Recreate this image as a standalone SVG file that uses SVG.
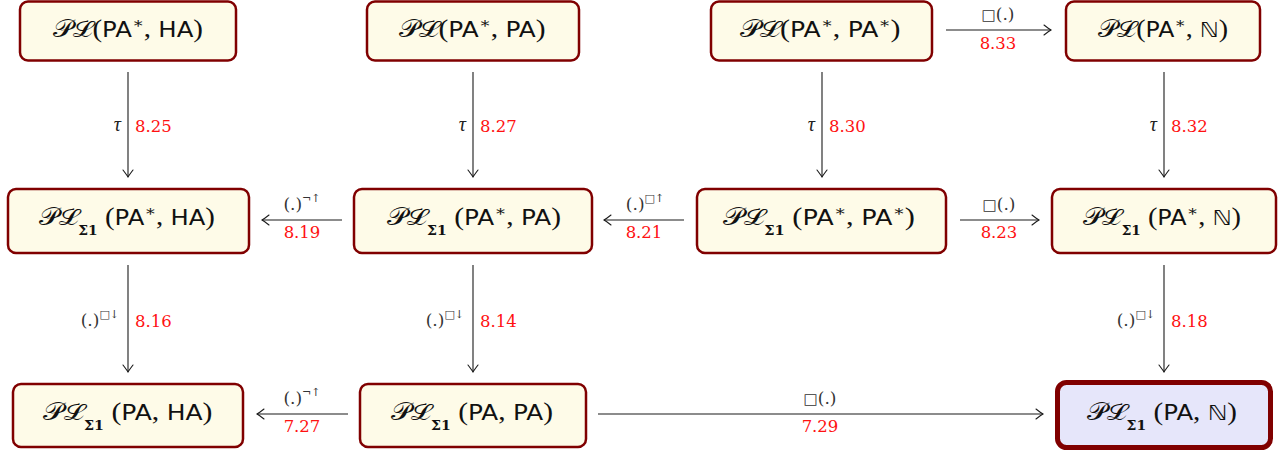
<svg xmlns="http://www.w3.org/2000/svg" width="1282" height="454" viewBox="0 0 1282 454">
<defs>
<marker id="arr" viewBox="-9 -6 10 12" markerWidth="10" markerHeight="12" refX="0" refY="0" orient="auto" markerUnits="userSpaceOnUse">
<path d="M-7,-5 Q-2,-1.2 0,0 Q-2,1.2 -7,5" fill="none" stroke="#1a1a1a" stroke-width="1.1" stroke-linecap="round"/>
</marker>
</defs>
<style>
.box{fill:#fefbe8;stroke:#800000;stroke-width:2.5}
.goal{fill:#e6e6fa;stroke:#800000;stroke-width:5}
.nt{font-family:"Liberation Serif","DejaVu Serif",serif;font-size:25px;fill:#111;text-anchor:middle}
.cal{font-size:24px}
.sf{font-family:"DejaVu Sans","Liberation Sans",sans-serif;font-size:21px}
.st{font-size:15px}
.sub{font-family:"DejaVu Serif",serif;font-size:12px;font-weight:bold}
.edge{stroke:#1a1a1a;stroke-width:1.1;fill:none;marker-end:url(#arr)}
.lb{font-family:"DejaVu Serif","Liberation Serif",serif;font-size:17px;fill:#333}
.tau{font-family:"Liberation Serif",serif;font-size:20px;font-style:italic;fill:#222}
.rd{font-family:"DejaVu Serif","Liberation Serif",serif;font-size:16.5px;fill:#ff1111}
.mid{text-anchor:middle}
.end{text-anchor:end}
.sup{font-size:11px}
.sq{font-family:"DejaVu Sans",sans-serif;font-size:15px}
</style>

<g id="edges">
<line class="edge" x1="128" y1="72" x2="128" y2="177"/>
<line class="edge" x1="473" y1="72" x2="473" y2="177"/>
<line class="edge" x1="822" y1="72" x2="822" y2="177"/>
<line class="edge" x1="1164" y1="72" x2="1164" y2="177"/>
<line class="edge" x1="128" y1="265" x2="128" y2="372"/>
<line class="edge" x1="473" y1="265" x2="473" y2="372"/>
<line class="edge" x1="1164" y1="265" x2="1164" y2="372"/>
<line class="edge" x1="946" y1="30" x2="1051" y2="30"/>
<line class="edge" x1="342" y1="220" x2="262" y2="220"/>
<line class="edge" x1="684" y1="220" x2="604" y2="220"/>
<line class="edge" x1="960" y1="220" x2="1039" y2="220"/>
<line class="edge" x1="348" y1="414" x2="257" y2="414"/>
<line class="edge" x1="598" y1="414" x2="1043" y2="414"/>

<text class="tau end" x="121" y="131">τ</text>
<text class="rd" x="135" y="132">8.25</text>
<text class="tau end" x="466" y="131">τ</text>
<text class="rd" x="480" y="132">8.27</text>
<text class="tau end" x="815" y="131">τ</text>
<text class="rd" x="829" y="132">8.30</text>
<text class="tau end" x="1157" y="131">τ</text>
<text class="rd" x="1171" y="132">8.32</text>

<text class="lb end" x="119" y="326">(.)<tspan class="sup" dy="-8">□↓</tspan></text>
<text class="rd" x="135" y="327">8.16</text>
<text class="lb end" x="464" y="326">(.)<tspan class="sup" dy="-8">□↓</tspan></text>
<text class="rd" x="480" y="327">8.14</text>
<text class="lb end" x="1155" y="326">(.)<tspan class="sup" dy="-8">□↓</tspan></text>
<text class="rd" x="1171" y="327">8.18</text>

<text class="lb mid" x="998" y="20"><tspan class="sq">□</tspan>(.)</text>
<text class="rd mid" x="998" y="49">8.33</text>
<text class="lb mid" x="302" y="210">(.)<tspan class="sup" dy="-8">¬↑</tspan></text>
<text class="rd mid" x="302" y="238">8.19</text>
<text class="lb mid" x="645" y="210">(.)<tspan class="sup" dy="-8">□↑</tspan></text>
<text class="rd mid" x="644" y="238">8.21</text>
<text class="lb mid" x="999" y="210"><tspan class="sq">□</tspan>(.)</text>
<text class="rd mid" x="999" y="238">8.23</text>
<text class="lb mid" x="302" y="404">(.)<tspan class="sup" dy="-8">¬↑</tspan></text>
<text class="rd mid" x="302" y="432">7.27</text>
<text class="lb mid" x="820" y="404"><tspan class="sq">□</tspan>(.)</text>
<text class="rd mid" x="820" y="432">7.29</text>
</g>

<g id="n-pl-pastar-ha">
<rect class="box" x="20" y="1.5" width="216" height="59" rx="8"/>
<text class="nt" x="128" y="37" textLength="150" lengthAdjust="spacingAndGlyphs"><tspan class="cal">𝒫ℒ</tspan>(<tspan class="sf">PA</tspan><tspan class="st" dy="-9">∗</tspan><tspan dy="9">, </tspan><tspan class="sf">HA</tspan>)</text>
</g>
<g id="n-pl-pastar-pa">
<rect class="box" x="367" y="1.5" width="212" height="59" rx="8"/>
<text class="nt" x="472" y="37" textLength="147" lengthAdjust="spacingAndGlyphs"><tspan class="cal">𝒫ℒ</tspan>(<tspan class="sf">PA</tspan><tspan class="st" dy="-9">∗</tspan><tspan dy="9">, </tspan><tspan class="sf">PA</tspan>)</text>
</g>
<g id="n-pl-pastar-pastar">
<rect class="box" x="711" y="1.5" width="221" height="59" rx="8"/>
<text class="nt" x="820" y="37" textLength="161" lengthAdjust="spacingAndGlyphs"><tspan class="cal">𝒫ℒ</tspan>(<tspan class="sf">PA</tspan><tspan class="st" dy="-9">∗</tspan><tspan dy="9">, </tspan><tspan class="sf">PA</tspan><tspan class="st" dy="-9">∗</tspan><tspan dy="9">)</tspan></text>
</g>
<g id="n-pl-pastar-n">
<rect class="box" x="1066" y="1.5" width="194" height="59" rx="8"/>
<text class="nt" x="1163" y="37" textLength="130" lengthAdjust="spacingAndGlyphs"><tspan class="cal">𝒫ℒ</tspan>(<tspan class="sf">PA</tspan><tspan class="st" dy="-9">∗</tspan><tspan dy="9">, </tspan><tspan class="sf">ℕ</tspan>)</text>
</g>

<g id="n-ps-pastar-ha">
<rect class="box" x="8" y="189" width="241" height="64" rx="8"/>
<text class="nt" x="127" y="225" textLength="176" lengthAdjust="spacingAndGlyphs"><tspan class="cal">𝒫ℒ</tspan><tspan class="sub" dy="10">Σ1</tspan><tspan dy="-10"> (</tspan><tspan class="sf">PA</tspan><tspan class="st" dy="-9">∗</tspan><tspan dy="9">, </tspan><tspan class="sf">HA</tspan>)</text>
</g>
<g id="n-ps-pastar-pa">
<rect class="box" x="354" y="189" width="238" height="64" rx="8"/>
<text class="nt" x="474" y="225" textLength="174" lengthAdjust="spacingAndGlyphs"><tspan class="cal">𝒫ℒ</tspan><tspan class="sub" dy="10">Σ1</tspan><tspan dy="-10"> (</tspan><tspan class="sf">PA</tspan><tspan class="st" dy="-9">∗</tspan><tspan dy="9">, </tspan><tspan class="sf">PA</tspan>)</text>
</g>
<g id="n-ps-pastar-pastar">
<rect class="box" x="697" y="189" width="249" height="64" rx="8"/>
<text class="nt" x="819" y="225" textLength="192" lengthAdjust="spacingAndGlyphs"><tspan class="cal">𝒫ℒ</tspan><tspan class="sub" dy="10">Σ1</tspan><tspan dy="-10"> (</tspan><tspan class="sf">PA</tspan><tspan class="st" dy="-9">∗</tspan><tspan dy="9">, </tspan><tspan class="sf">PA</tspan><tspan class="st" dy="-9">∗</tspan><tspan dy="9">)</tspan></text>
</g>
<g id="n-ps-pastar-n">
<rect class="box" x="1052" y="189" width="224" height="64" rx="8"/>
<text class="nt" x="1162" y="225" textLength="158" lengthAdjust="spacingAndGlyphs"><tspan class="cal">𝒫ℒ</tspan><tspan class="sub" dy="10">Σ1</tspan><tspan dy="-10"> (</tspan><tspan class="sf">PA</tspan><tspan class="st" dy="-9">∗</tspan><tspan dy="9">, </tspan><tspan class="sf">ℕ</tspan>)</text>
</g>

<g id="n-ps-pa-ha">
<rect class="box" x="13" y="384" width="230" height="63" rx="8"/>
<text class="nt" x="128" y="420" textLength="169" lengthAdjust="spacingAndGlyphs"><tspan class="cal">𝒫ℒ</tspan><tspan class="sub" dy="10">Σ1</tspan><tspan dy="-10"> (</tspan><tspan class="sf">PA</tspan>, <tspan class="sf">HA</tspan>)</text>
</g>
<g id="n-ps-pa-pa">
<rect class="box" x="360" y="384" width="226" height="63" rx="8"/>
<text class="nt" x="472" y="420" textLength="162" lengthAdjust="spacingAndGlyphs"><tspan class="cal">𝒫ℒ</tspan><tspan class="sub" dy="10">Σ1</tspan><tspan dy="-10"> (</tspan><tspan class="sf">PA</tspan>, <tspan class="sf">PA</tspan>)</text>
</g>
<g id="n-ps-pa-n">
<rect class="goal" x="1057.5" y="382.5" width="213" height="65" rx="9"/>
<text class="nt" x="1162" y="420" textLength="150" lengthAdjust="spacingAndGlyphs"><tspan class="cal">𝒫ℒ</tspan><tspan class="sub" dy="10">Σ1</tspan><tspan dy="-10"> (</tspan><tspan class="sf">PA</tspan>, <tspan class="sf">ℕ</tspan>)</text>
</g>
</svg>
